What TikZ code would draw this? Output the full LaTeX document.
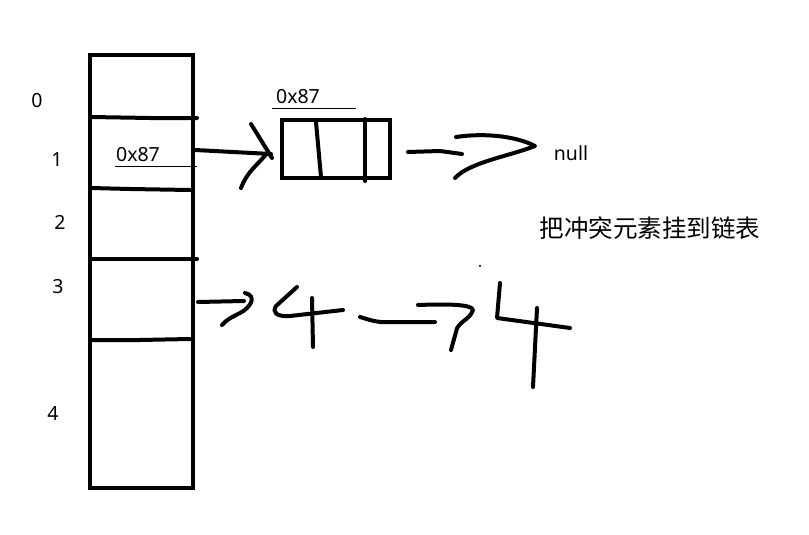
\documentclass[tikz,border=0pt]{standalone}
\usepackage{fontspec}
\setmainfont{Noto Sans}
\newfontfamily\cjk{Noto Sans CJK SC}
\begin{document}
\begin{tikzpicture}[x=1pt,y=-1pt,
  pen/.style={line width=4pt,line cap=round,line join=round},
  thinpen/.style={line width=0.9pt},
  lbl/.style={font=\fontsize{19.5}{22}\selectfont,inner sep=0pt},
  anchor=center]
\useasboundingbox (0,0) rectangle (809,535);
% table
\node[draw,line width=4.2pt,minimum width=103pt,minimum height=433pt,inner sep=0pt] (table) at (141.5,271.5) {};
\draw[pen] (91,117) -- (150,118) -- (197,118);
\draw[pen] (91,188) -- (130,189) -- (190,190);
\draw[pen] (91,259) -- (197,259);
\draw[pen] (91,340) -- (140,340) -- (190,339);
% row labels
\node[lbl] (r0) at (37,101) {0};
\node[lbl] (r1) at (57,160) {1};
\node[lbl] (r2) at (60,222) {2};
\node[lbl] (r3) at (58,287) {3};
\node[lbl] (r4) at (53,413) {4};
% 0x87 in table
\node[lbl] (addr1) at (138,155) {0x87};
\draw[thinpen] (115,166) -- (197,166);
% arrow to box
\coordinate (a1s) at (195,150);
\coordinate (a1e) at (271,154);
\draw[pen] (a1s) -- (a1e);
\draw[pen] (251,124) -- (272,158);
\draw[pen] (268,152) .. controls (258,165) and (248,170) .. (241,188);
% box
\node[draw,line width=4pt,minimum width=108pt,minimum height=58pt,inner sep=0pt] (box) at (336,149) {};
\draw[pen] (316,122) -- (321,177);
\draw[pen] (365,119) -- (365,181);
\node[lbl] (addr2) at (298,97) {0x87};
\draw[thinpen] (272,108) -- (356,108);
% arrow to null
\draw[pen] (408,152) -- (440,151) -- (462,154);
\draw[pen] (456,137) .. controls (490,132) and (520,138) .. (535,146)
      .. controls (510,156) and (470,162) .. (455,178);
\node[lbl] (null) at (571,153) {null};
% note
\node[font=\cjk\fontsize{24.5}{28}\selectfont,inner sep=0pt] (note) at (650,228) {把冲突元素挂到链表};
% chain scribble
\draw[pen] (198,302) -- (244,301);
\draw[pen] (245,293) .. controls (258,296) and (250,308) .. (240,313) .. controls (232,317) and (226,320) .. (222,325);
\draw[pen] (297,287) -- (276,306) .. controls (272,312) and (276,317) .. (290,316) -- (343,310);
\draw[pen] (312,298) -- (313,347);
\draw[pen] (360,317) .. controls (370,320) and (378,323) .. (390,322) -- (435,322);
\draw[pen] (418,305) .. controls (445,304) and (472,304) .. (473,310) .. controls (470,320) and (457,322) .. (456,332) -- (451,350);
\fill (480,266) circle (1.2pt);
\draw[pen] (500,283) -- (497,318) -- (570,328);
\draw[pen] (537,308) -- (533,387);
\end{tikzpicture}
\end{document}
